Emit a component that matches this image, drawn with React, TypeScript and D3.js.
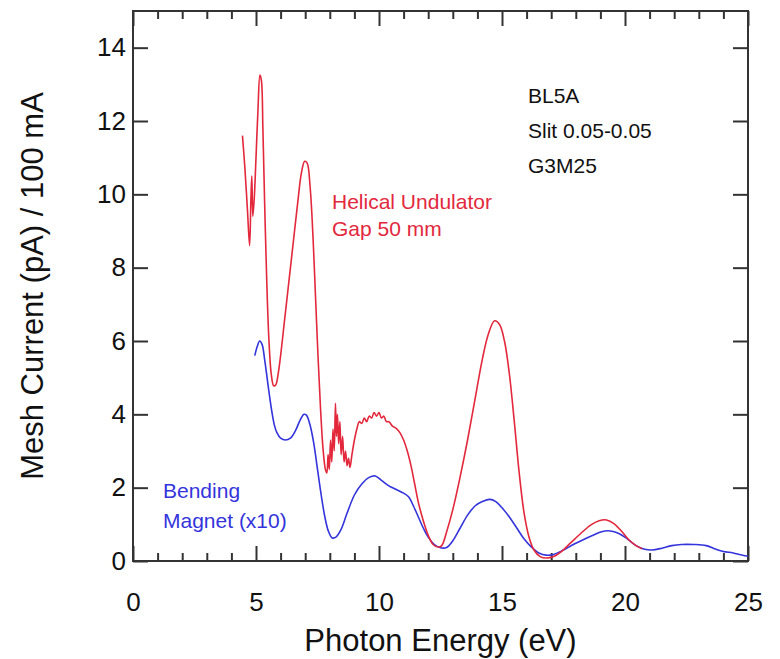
import React, { useEffect, useRef } from 'react';
import * as d3 from 'd3';

// Helical undulator (gap 50 mm), photon energy (eV) / mesh current
const undulatorEnergy = [
  4.45, 4.55, 4.65, 4.74, 4.79, 4.83, 4.87, 4.93, 5.0, 5.08, 5.16, 5.22, 5.28, 5.35, 5.43, 5.52,
  5.62, 5.72, 5.8, 5.9, 6.0, 6.15, 6.3, 6.5, 6.7, 6.85, 6.98, 7.08, 7.2, 7.32, 7.42, 7.52, 7.62,
  7.72, 7.82, 7.88, 7.93, 7.98, 8.03, 8.08, 8.13, 8.18, 8.23, 8.27, 8.31, 8.36, 8.41, 8.46, 8.52,
  8.58, 8.64, 8.7, 8.76, 8.82, 8.9, 9.0, 9.1, 9.2, 9.3, 9.4, 9.5, 9.6, 9.7, 9.8, 9.9, 10.0, 10.1,
  10.2, 10.3, 10.4, 10.55, 10.7, 10.85, 11.0, 11.15, 11.3, 11.45, 11.6, 11.8, 12.0, 12.2, 12.4,
  12.55, 12.75, 13.0, 13.3, 13.6, 13.9, 14.2, 14.45, 14.7, 14.9, 15.1, 15.3, 15.5, 15.7, 15.9,
  16.1, 16.3, 16.55, 16.8, 17.1, 17.4, 17.8, 18.2, 18.6, 18.95, 19.25, 19.55, 19.85, 20.15,
  20.45, 20.7,
];
const undulatorCurrent = [
  11.6, 10.7, 9.6, 8.6, 9.8, 10.5, 9.4, 9.9, 11.0, 12.3, 13.25, 13.1, 11.8, 9.8, 7.8, 6.1,
  5.1, 4.78, 4.8, 5.1, 5.6, 6.5, 7.4, 8.6, 9.8, 10.6, 10.9, 10.85, 10.2, 8.8, 7.2, 5.6, 4.2,
  3.1, 2.5, 2.4, 2.9, 2.5, 3.3, 2.7, 3.6, 3.0, 4.3, 3.4, 4.0, 3.2, 3.8, 2.9, 3.4,
  2.7, 3.0, 2.6, 2.8, 2.55, 2.9, 3.3, 3.6, 3.8, 3.75, 3.9, 3.8, 3.95, 3.9, 4.05, 3.95, 4.05, 3.9,
  3.95, 3.8, 3.8, 3.68, 3.62, 3.5, 3.3, 3.0, 2.6, 2.1, 1.6, 1.1, 0.7, 0.45, 0.38,
  0.42, 0.8, 1.4, 2.3, 3.3, 4.4, 5.5, 6.2, 6.55, 6.45, 6.0, 5.1, 3.8, 2.4, 1.3,
  0.65, 0.3, 0.12, 0.08, 0.12, 0.25, 0.5, 0.75, 0.98, 1.1, 1.12, 1.02, 0.82, 0.58,
  0.42, 0.33,
];

// Bending magnet (x10)
const bendingEnergy = [
  4.95, 5.05, 5.15, 5.25, 5.35, 5.45, 5.55, 5.65, 5.75, 5.85, 6.0, 6.2, 6.4, 6.6, 6.8, 6.95,
  7.05, 7.2, 7.35, 7.5, 7.65, 7.8, 7.95, 8.1, 8.25, 8.45, 8.7, 9.0, 9.3, 9.6, 9.85, 10.1, 10.4,
  10.7, 11.0, 11.2, 11.4, 11.6, 11.8, 12.0, 12.25, 12.5, 12.75, 13.0, 13.3, 13.6, 13.9, 14.2,
  14.5, 14.75, 15.0, 15.3, 15.6, 15.9, 16.2, 16.5, 16.8, 17.1, 17.5, 17.9, 18.3, 18.7, 19.05,
  19.4, 19.75, 20.1, 20.45, 20.8, 21.1, 21.5, 21.9, 22.3, 22.8, 23.3, 23.7, 24.0, 24.4, 24.7, 25.0,
];
const bendingCurrent = [
  5.6, 5.85, 6.0, 5.9, 5.5, 5.0, 4.5, 4.05, 3.7, 3.5, 3.35, 3.3, 3.35, 3.55, 3.85, 4.0,
  3.98, 3.7, 3.2, 2.5, 1.8, 1.2, 0.8, 0.63, 0.65, 0.85, 1.3, 1.8, 2.1, 2.28, 2.32, 2.2, 2.05,
  1.95, 1.85, 1.75, 1.5, 1.2, 0.9, 0.65, 0.45, 0.36, 0.37, 0.55, 0.9, 1.25, 1.5, 1.62,
  1.68, 1.62, 1.45, 1.2, 0.9, 0.6, 0.38, 0.22, 0.16, 0.18, 0.3, 0.45, 0.58, 0.7, 0.8,
  0.82, 0.75, 0.6, 0.42, 0.32, 0.3, 0.35, 0.42, 0.45, 0.45, 0.42, 0.32, 0.26, 0.22, 0.17, 0.13,
];

const xTicks = [0, 5, 10, 15, 20, 25];
const yTicks = [0, 2, 4, 6, 8, 10, 12, 14];
const infoLines = ['BL5A', 'Slit 0.05-0.05', 'G3M25'];
const undulatorLabel = ['Helical Undulator', 'Gap 50 mm'];
const bendingLabel = ['Bending', 'Magnet (x10)'];

const RED = '#e3283c';
const BLUE = '#3434dc';
const FONT = '"Liberation Sans", Arial, Helvetica, sans-serif';

export default function App() {
  const svgRef = useRef<SVGSVGElement>(null);

  useEffect(() => {
    if (!svgRef.current) return;
    const svg = d3.select(svgRef.current);
    svg.selectAll('*').remove();

    const W = 780;
    const H = 659;
    const left = 133;
    const right = 748;
    const top = 11;
    const bottom = 561;

    const x = d3.scaleLinear().domain([0, 25]).range([left, right]);
    const y = d3.scaleLinear().domain([0, 15]).range([bottom, top]);

    svg.attr('width', W).attr('height', H);
    svg.append('rect').attr('width', W).attr('height', H).attr('fill', '#fff');

    const minorX = d3.range(0, 26, 1).filter((v) => v % 5 !== 0);
    const axisColor = '#333';

    // bottom axis: major + minor ticks pointing inward
    const gB = svg.append('g').attr('transform', `translate(0,${bottom})`);
    gB.call(d3.axisBottom(x).tickValues(xTicks).tickSize(-15).tickSizeOuter(0).tickPadding(32).tickFormat(d3.format('d')));
    const gBm = svg.append('g').attr('transform', `translate(0,${bottom})`);
    gBm.call(d3.axisBottom(x).tickValues(minorX).tickSize(-8).tickSizeOuter(0).tickFormat(() => ''));

    // top axis
    const gT = svg.append('g').attr('transform', `translate(0,${top})`);
    gT.call(d3.axisTop(x).tickValues(xTicks).tickSize(-15).tickSizeOuter(0).tickFormat(() => ''));
    const gTm = svg.append('g').attr('transform', `translate(0,${top})`);
    gTm.call(d3.axisTop(x).tickValues(minorX).tickSize(-8).tickSizeOuter(0).tickFormat(() => ''));

    // left / right axes
    const gL = svg.append('g').attr('transform', `translate(${left},0)`);
    gL.call(d3.axisLeft(y).tickValues(yTicks).tickSize(-15).tickSizeOuter(0).tickPadding(7).tickFormat(d3.format('d')));
    const gR = svg.append('g').attr('transform', `translate(${right},0)`);
    gR.call(d3.axisRight(y).tickValues(yTicks).tickSize(-15).tickSizeOuter(0).tickFormat(() => ''));

    [gB, gBm, gT, gTm, gL, gR].forEach((g) => {
      g.select('.domain').remove();
      g.selectAll('line').attr('stroke', axisColor).attr('stroke-width', 2);
      g.selectAll('text').attr('fill', '#111').style('font-family', FONT).style('font-size', '26px');
    });

    // frame
    svg
      .append('rect')
      .attr('x', left)
      .attr('y', top)
      .attr('width', right - left)
      .attr('height', bottom - top)
      .attr('fill', 'none')
      .attr('stroke', axisColor)
      .attr('stroke-width', 2);

    const bendPts = bendingEnergy.map((e, i) => [e, bendingCurrent[i]] as [number, number]);
    const undPts = undulatorEnergy.map((e, i) => [e, undulatorCurrent[i]] as [number, number]);
    const path = d3
      .line<[number, number]>()
      .x((d) => x(d[0]))
      .y((d) => y(d[1]))
      .curve(d3.curveCatmullRom.alpha(0.5));

    svg
      .append('path')
      .attr('d', path(bendPts) || '')
      .attr('fill', 'none')
      .attr('stroke', BLUE)
      .attr('stroke-width', 1.6);
    svg
      .append('path')
      .attr('d', path(undPts) || '')
      .attr('fill', 'none')
      .attr('stroke', RED)
      .attr('stroke-width', 1.6);

    // axis titles
    svg
      .append('text')
      .attr('x', (left + right) / 2)
      .attr('y', 651)
      .attr('text-anchor', 'middle')
      .style('font-family', FONT)
      .style('font-size', '31px')
      .attr('fill', '#111')
      .text('Photon Energy (eV)');
    svg
      .append('text')
      .attr('transform', `translate(43,${(top + bottom) / 2}) rotate(-90)`)
      .attr('text-anchor', 'middle')
      .style('font-family', FONT)
      .style('font-size', '31px')
      .attr('fill', '#111')
      .text('Mesh Current (pA) / 100 mA');

    const addLines = (lines: string[], x0: number, y0: number, dy: number, color: string) => {
      lines.forEach((t, i) => {
        svg
          .append('text')
          .attr('x', x0)
          .attr('y', y0 + i * dy)
          .style('font-family', FONT)
          .style('font-size', '21px')
          .attr('fill', color)
          .text(t);
      });
    };
    addLines(infoLines, 528, 103, 35, '#111');
    addLines(undulatorLabel, 332, 209, 27, RED);
    addLines(bendingLabel, 163, 498, 30, BLUE);
  }, []);

  return <svg ref={svgRef} style={{ position: 'absolute', left: 0, top: 0 }} />;
}
